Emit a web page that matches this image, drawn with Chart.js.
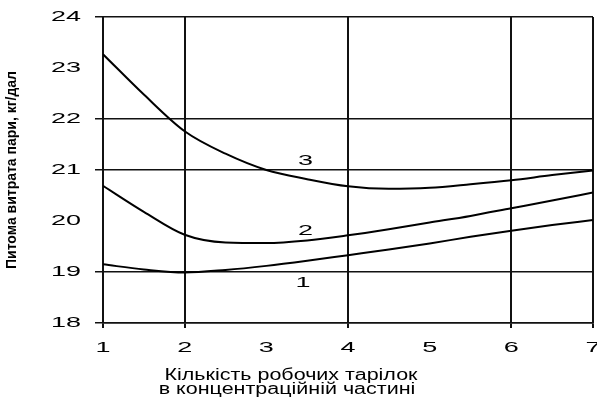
<!DOCTYPE html>
<html>
<head>
<meta charset="utf-8">
<script src="https://cdn.jsdelivr.net/npm/chart.js@4/dist/chart.umd.min.js"></script>
<style>
  html, body { margin: 0; padding: 0; background: #fff; }
  canvas { display: block; }
</style>
</head>
<body>
<canvas id="chart" width="597" height="401"></canvas>
<script>
// data
const plates = [1, 1.5, 2, 2.5, 3, 3.5, 4, 4.5, 5, 5.5, 6, 6.5, 7];
const curve1 = [19.15, 19.05, 18.99, 19.04, 19.12, 19.22, 19.33, 19.44, 19.56, 19.69, 19.81, 19.92, 20.02];
const curve2 = [20.69, 20.18, 19.73, 19.58, 19.57, 19.62, 19.72, 19.84, 19.97, 20.10, 20.25, 20.40, 20.56];
const curve3 = [23.27, 22.48, 21.76, 21.32, 21.00, 20.82, 20.68, 20.63, 20.65, 20.72, 20.80, 20.90, 20.99];

const xTicks = [1, 2, 3, 4, 5, 6, 7];
const yTicks = [18, 19, 20, 21, 22, 23, 24];
const xGridLines = [1, 2, 4, 6, 7];
const yGridLines = [18, 19, 21, 22, 24];

const curveLabels = ['1', '2', '3'];
const curveLabelX = [3.45, 3.48, 3.48];
const curveLabelY = [18.78, 19.80, 21.17];

const yTitle = 'Питома витрата пари, кг/дал';
const xTitle = ['Кількість робочих тарілок', 'в концентраційній частині'];

const toPoints = (ys) => plates.map((x, i) => ({ x: x, y: ys[i] }));

// the source picture is stretched sideways, so its text is too
function wideText(ctx, text, x, y, align, sx, font, baseline) {
    ctx.save();
    ctx.translate(x, y);
    ctx.scale(sx, 1);
    ctx.font = font;
    ctx.fillStyle = '#000';
    ctx.textAlign = align;
    ctx.textBaseline = baseline || 'middle';
    ctx.fillText(text, 0, 0);
    ctx.restore();
}

const textPlugin = {
    id: 'wideLabels',
    afterDraw(chart) {
        const ctx = chart.ctx;
        const xs = chart.scales.x;
        const ys = chart.scales.y;
        const digitFont = '15px "Liberation Sans", Arial, sans-serif';

        yTicks.forEach(v => {
            wideText(ctx, String(v), 81, ys.getPixelForValue(v), 'right', 1.8, digitFont);
        });
        xTicks.forEach(v => {
            wideText(ctx, String(v), xs.getPixelForValue(v), 348, 'center', 1.8, digitFont);
        });

        curveLabels.forEach((t, i) => {
            wideText(ctx, t, xs.getPixelForValue(curveLabelX[i]), ys.getPixelForValue(curveLabelY[i]), 'center', 1.8, digitFont);
        });

        // two-line axis title under the chart
        const titleFont = '16px "Liberation Sans", Arial, sans-serif';
        ctx.save();
        ctx.font = titleFont;
        const sx = 253 / ctx.measureText(xTitle[0]).width;
        ctx.restore();
        wideText(ctx, xTitle[0], 291, 380, 'center', sx, titleFont, 'alphabetic');
        wideText(ctx, xTitle[1], 287, 394, 'center', sx, titleFont, 'alphabetic');
    }
};

const lineStyle = {
    borderColor: '#000',
    borderWidth: 2,
    pointRadius: 0,
    cubicInterpolationMode: 'monotone',
    fill: false
};

new Chart(document.getElementById('chart'), {
    type: 'line',
    data: {
        datasets: [
            { label: '1', data: toPoints(curve1), ...lineStyle },
            { label: '2', data: toPoints(curve2), ...lineStyle },
            { label: '3', data: toPoints(curve3), ...lineStyle }
        ]
    },
    options: {
        responsive: false,
        animation: false,
        layout: { padding: { top: 17, right: 4, left: 0, bottom: 0 } },
        plugins: {
            legend: { display: false },
            tooltip: { enabled: false }
        },
        scales: {
            x: {
                type: 'linear',
                min: 1,
                max: 7,
                afterBuildTicks: (scale) => { scale.ticks = xTicks.map(v => ({ value: v })); },
                afterFit: (scale) => { scale.height = 78; },
                ticks: { display: false },
                grid: {
                    color: (c) => xGridLines.includes(c.tick && c.tick.value) ? '#111' : 'rgba(0,0,0,0)',
                    lineWidth: 2,
                    tickLength: 5
                },
                border: { color: '#111', width: 1.5 }
            },
            y: {
                type: 'linear',
                min: 18,
                max: 24,
                afterBuildTicks: (scale) => { scale.ticks = yTicks.map(v => ({ value: v })); },
                afterFit: (scale) => { scale.width = 103; },
                ticks: { display: false },
                grid: {
                    color: (c) => yGridLines.includes(c.tick && c.tick.value) ? '#111' : 'rgba(0,0,0,0)',
                    lineWidth: 1.5,
                    tickLength: 8
                },
                border: { color: '#111', width: 2 },
                title: {
                    display: true,
                    text: yTitle,
                    color: '#000',
                    font: { family: '"Liberation Sans Narrow", "Liberation Sans", Arial, sans-serif', size: 14, weight: 'bold' },
                    padding: { top: 4, bottom: 0 }
                }
            }
        }
    },
    plugins: [textPlugin]
});
</script>
</body>
</html>
